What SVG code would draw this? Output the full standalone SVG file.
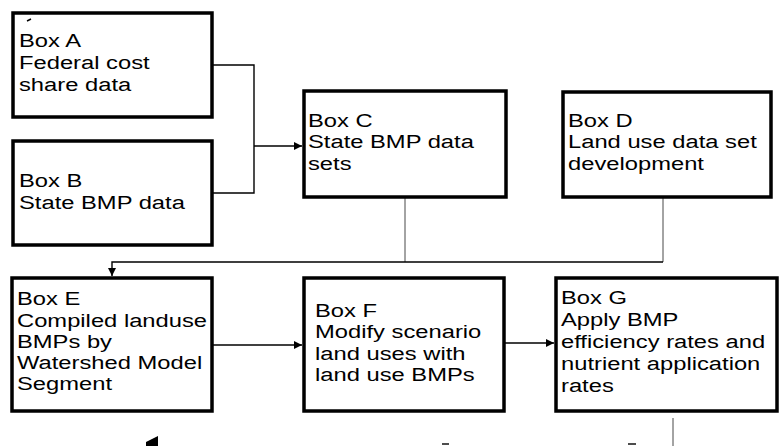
<svg xmlns="http://www.w3.org/2000/svg" width="780" height="446" viewBox="0 0 780 446">
<style>
.box{fill:#fff;stroke:#000;stroke-width:3.5}
.t{font-family:"Liberation Sans",Arial,sans-serif;font-size:18px;fill:#000}
.c{fill:none;stroke:#000;stroke-width:1.4}
.thin{fill:none;stroke:#333;stroke-width:0.9}
</style>
<defs>
<marker id="ah" viewBox="0 0 10 10" refX="10" refY="5" markerWidth="9" markerHeight="8" markerUnits="userSpaceOnUse" orient="auto">
<path d="M0,0 L10,5 L0,10 z" fill="#000"/>
</marker>
</defs>
<rect width="780" height="446" fill="#fff"/>
<g id="connectors">
<path class="c" d="M212,65 H254 V193 H212"/>
<path class="c" d="M254,146 H302" marker-end="url(#ah)"/>
<path class="thin" d="M405,197 V262"/>
<path class="thin" d="M663,197 V262"/>
<path class="c" d="M663,262 H112 V276" marker-end="url(#ah)"/>
<path class="c" d="M212,345 H302" marker-end="url(#ah)"/>
<path class="c" d="M504,343 H554" marker-end="url(#ah)"/>
<path class="thin" d="M673,418 V446"/>
<polygon points="146,442 158,436 158,446 146,446" fill="#000"/>
<path class="c" d="M442,444 H449"/>
<path class="c" d="M628,444 H636"/>
</g>
<g id="boxA">
<rect class="box" x="13" y="13" width="199" height="104"/>
<path d="M27,21 L31,19" stroke="#000" stroke-width="1.5"/>
<text class="t" transform="translate(19,0) scale(1.32,1)"><tspan x="0" y="47">Box A</tspan><tspan x="0" y="69">Federal cost</tspan><tspan x="0" y="91">share data</tspan></text>
</g>
<g id="boxB">
<rect class="box" x="13" y="141" width="199" height="104"/>
<text class="t" transform="translate(19,0) scale(1.32,1)"><tspan x="0" y="187">Box B</tspan><tspan x="0" y="209">State BMP data</tspan></text>
</g>
<g id="boxC">
<rect class="box" x="304" y="91" width="202" height="106"/>
<text class="t" transform="translate(308,0) scale(1.32,1)"><tspan x="0" y="127">Box C</tspan><tspan x="0" y="148">State BMP data</tspan><tspan x="0" y="170">sets</tspan></text>
</g>
<g id="boxD">
<rect class="box" x="563" y="92" width="208" height="105"/>
<text class="t" transform="translate(568,0) scale(1.32,1)"><tspan x="0" y="127">Box D</tspan><tspan x="0" y="148">Land use data set</tspan><tspan x="0" y="170">development</tspan></text>
</g>
<g id="boxE">
<rect class="box" x="12" y="278" width="200" height="133"/>
<text class="t" transform="translate(17,0) scale(1.32,1)"><tspan x="0" y="305">Box E</tspan><tspan x="0" y="327">Compiled landuse</tspan><tspan x="0" y="348">BMPs by</tspan><tspan x="0" y="369">Watershed Model</tspan><tspan x="0" y="390">Segment</tspan></text>
</g>
<g id="boxF">
<rect class="box" x="304" y="278" width="200" height="133"/>
<text class="t" transform="translate(315,0) scale(1.32,1)"><tspan x="0" y="317">Box F</tspan><tspan x="0" y="338">Modify scenario</tspan><tspan x="0" y="360">land uses with</tspan><tspan x="0" y="381">land use BMPs</tspan></text>
</g>
<g id="boxG">
<rect class="box" x="556" y="278" width="221" height="133"/>
<text class="t" transform="translate(561,0) scale(1.32,1)"><tspan x="0" y="304">Box G</tspan><tspan x="0" y="326">Apply BMP</tspan><tspan x="0" y="348">efficiency rates and</tspan><tspan x="0" y="370">nutrient application</tspan><tspan x="0" y="392">rates</tspan></text>
</g>
</svg>
